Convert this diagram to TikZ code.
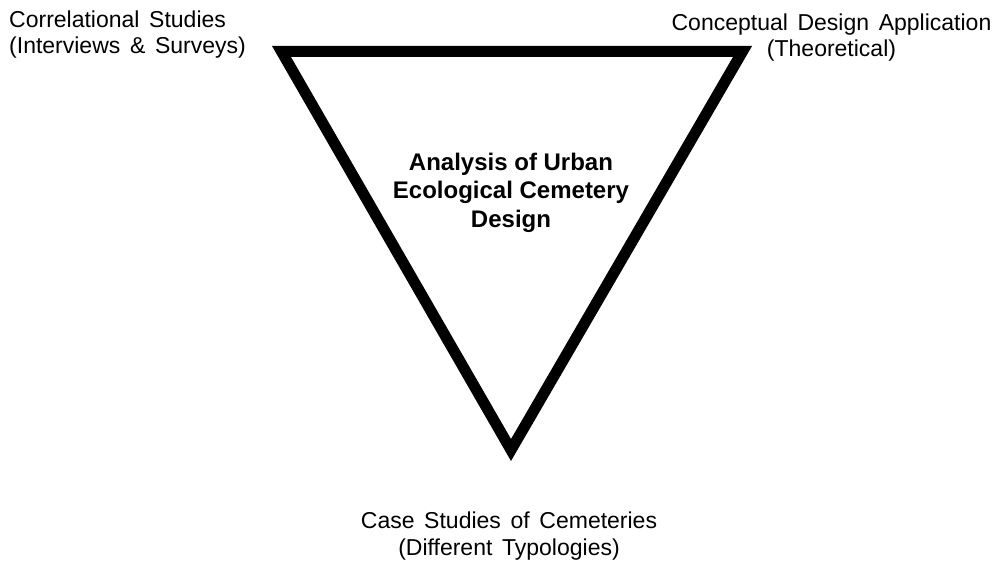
\documentclass[tikz,border=0pt]{standalone}
\usepackage{fontspec}
\setmainfont{Liberation Sans}
\newcommand\myWideSpace{\spaceskip=0.42em plus 0.1em minus 0.05em\relax}
\begin{document}
\begin{tikzpicture}[x=1pt,y=-1pt,
  lbl/.style={inner sep=0pt, anchor=base, font=\fontsize{23}{26}\selectfont\myWideSpace},
  lbll/.style={lbl, anchor=base west},
  ttl/.style={inner sep=0pt, anchor=base, font=\fontsize{24}{28}\selectfont\bfseries},
  tri/.style={draw=black, line width=11pt, miter limit=10, line join=miter}]
\useasboundingbox (0,0) rectangle (998,564);
\coordinate (A) at (281.5,51.5);
\coordinate (B) at (742.5,51.5);
\coordinate (C) at (511,450);
\draw[tri] (A) -- (B) -- (C) -- cycle;
% top-left
\node[lbll] (tl1) at (9,28) {Correlational Studies};
\node[lbll] (tl2) at (9,54) {(Interviews \& Surveys)};
% top-right
\node[lbl] (tr1) at (831.5,31) {Conceptual Design Application};
\node[lbl] (tr2) at (831.5,57) {(Theoretical)};
% centre
\node[ttl] (c1) at (511,171) {Analysis of Urban};
\node[ttl] (c2) at (511,199) {Ecological Cemetery};
\node[ttl] (c3) at (511,227) {Design};
% bottom
\node[lbl] (b1) at (509,528) {Case Studies of Cemeteries};
\node[lbl] (b2) at (509,555) {(Different Typologies)};
\end{tikzpicture}
\end{document}
